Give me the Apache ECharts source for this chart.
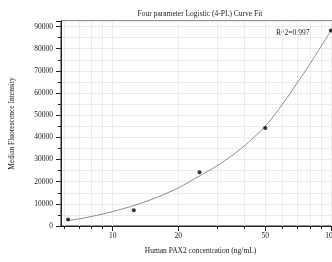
<!DOCTYPE html>
<html><head><meta charset="utf-8">
<script src="https://cdn.jsdelivr.net/npm/echarts@6/dist/echarts.min.js"></script>
<style>html,body{margin:0;padding:0;background:#fff;overflow:hidden;width:332px;height:262px}#c{width:345px;height:262px}</style>
</head><body><div id="c"></div>
<script>
const concentrations = [6.25, 12.5, 25, 50, 100];
const intensities = [2900, 7100, 24300, 44200, 88200];
const fitX = [6.25, 7, 8, 9, 10, 12.5, 15, 17.5, 20, 25, 30, 35, 40, 50, 60, 70, 80, 90, 100];
const fitY = [2400, 3200, 4300, 5400, 6500, 9200, 11900, 14600, 17200, 22600, 27100, 31600, 36100, 45000, 55000, 64500, 73000, 81000, 88200];
const xTickValues = [6, 7, 8, 9, 10, 20, 30, 40, 50, 60, 70, 80, 90, 100];
const xLabelValues = [10, 20, 50, 100];
const rSquaredText = 'R^2=0.997';
const titleText = 'Four parameter Logistic (4-PL) Curve Fit';

const font = 'Liberation Serif';
const fs = 7.5;
const chart = echarts.init(document.getElementById('c'), null, {renderer: 'canvas'});
const xBase = {type: 'log', min: 5.8, max: 110, logBase: 10, gridIndex: 0};
chart.setOption({
  animation: false,
  backgroundColor: '#fff',
  title: {text: titleText, left: 195, top: 5, textAlign: 'center',
    textStyle: {fontFamily: font, fontSize: fs, fontWeight: 'normal', color: '#222'}},
  grid: {left: 60, top: 21, right: 5, bottom: 36, show: true, borderColor: '#222', borderWidth: 1},
  xAxis: [Object.assign({}, xBase, {
    name: 'Human PAX2 concentration (ng/mL)', nameLocation: 'middle', nameGap: 21,
    nameTextStyle: {fontFamily: font, fontSize: fs, color: '#222'},
    axisLine: {lineStyle: {color: '#222'}},
    axisTick: {customValues: xTickValues, length: 3, lineStyle: {color: '#222'}},
    axisLabel: {customValues: xLabelValues, fontFamily: font, fontSize: fs, color: '#222', margin: 6},
    splitLine: {show: true, lineStyle: {color: '#ebebeb', width: 1}}
  }), Object.assign({}, xBase, {
    position: 'bottom',
    axisLine: {show: false},
    axisTick: {customValues: xLabelValues, length: 5, lineStyle: {color: '#222'}},
    axisLabel: {show: false},
    splitLine: {show: false}
  })],
  yAxis: {
    type: 'value', min: 0, max: 92500, interval: 10000,
    name: 'Median Fluorescence Intensity', nameLocation: 'middle', nameGap: 45,
    nameTextStyle: {fontFamily: font, fontSize: fs, color: '#222'},
    axisLine: {show: true, lineStyle: {color: '#222'}},
    axisTick: {show: true, length: 5, lineStyle: {color: '#222'}},
    minorTick: {show: true, splitNumber: 2, length: 3, lineStyle: {color: '#222'}},
    axisLabel: {showMaxLabel: false, fontFamily: font, fontSize: fs, color: '#222', margin: 8,
      formatter: v => String(v)},
    splitLine: {show: true, lineStyle: {color: '#ebebeb'}},
    minorSplitLine: {show: true, lineStyle: {color: '#ebebeb'}}
  },
  graphic: [{type: 'text', left: 276, top: 29, style: {text: rSquaredText, font: fs + 'px "Liberation Serif"', fill: '#222'}}],
  series: [
    {type: 'line', data: fitX.map((x, i) => [x, fitY[i]]), smooth: 0.3, showSymbol: false,
     lineStyle: {color: '#8c8c8c', width: 1}, z: 2},
    {type: 'scatter', data: concentrations.map((x, i) => [x, intensities[i]]), symbolSize: 4,
     itemStyle: {color: '#000'}, z: 3}
  ]
});
</script></body></html>
